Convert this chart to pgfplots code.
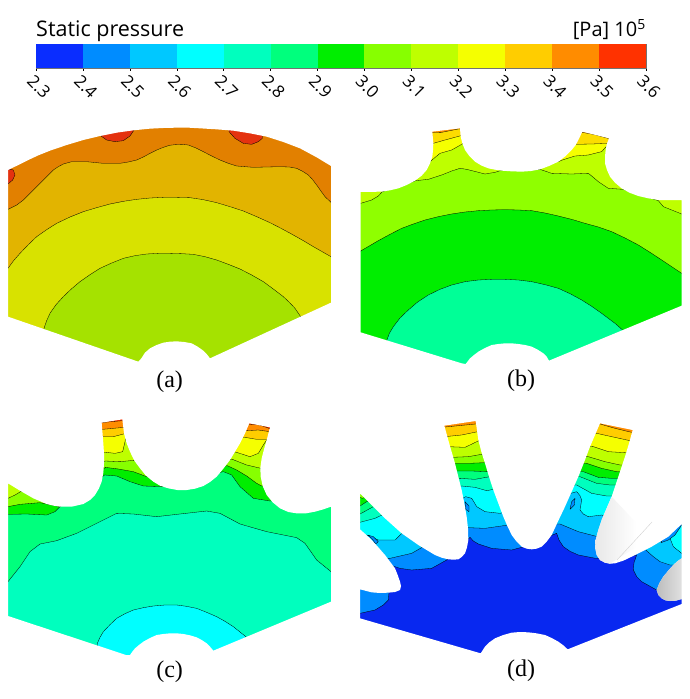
\documentclass[border=0pt]{standalone}
\usepackage{pgfplots}
\usepackage{fontspec}
\setmainfont{Liberation Serif}
\newfontfamily\barfont{Open Sans}
\pgfplotsset{compat=1.18}

% colour bar levels
\definecolor{c23}{RGB}{10,45,255}
\definecolor{c24}{RGB}{0,140,255}
\definecolor{c25}{RGB}{0,200,255}
\definecolor{c26}{RGB}{0,255,255}
\definecolor{c27}{RGB}{0,255,190}
\definecolor{c28}{RGB}{0,255,125}
\definecolor{c29}{RGB}{0,238,0}
\definecolor{c30}{RGB}{135,255,0}
\definecolor{c31}{RGB}{190,255,0}
\definecolor{c32}{RGB}{245,255,0}
\definecolor{c33}{RGB}{255,205,0}
\definecolor{c34}{RGB}{255,140,0}
\definecolor{c35}{RGB}{255,50,0}
\definecolor{d23}{RGB}{8,40,240}
% panel (a) is shaded darker
\definecolor{a1}{RGB}{228,50,15}
\definecolor{a2}{RGB}{226,128,0}
\definecolor{a3}{RGB}{226,180,0}
\definecolor{a4}{RGB}{216,226,0}
\definecolor{a5}{RGB}{165,226,0}

\pgfplotsset{panel/.style={hide axis,scale only axis,width=345pt,height=290pt,
  xmin=0,xmax=1035,ymin=0,ymax=870,y dir=reverse}}

\newcommand\base[1]{\addplot[fill=#1,draw=none] coordinates {(0,0)(1035,0)(1035,870)(0,870)} --cycle;}
\newcommand\region[4]{\addplot[fill=#1,draw=black,line width=.3pt,line join=round] coordinates {(0,#2) #3 (1035,#4)(1035,870)(0,870)} --cycle;}
\newcommand\blob[2]{\addplot[fill=#1,draw=black,line width=.3pt,line join=round] coordinates {#2} --cycle;}
\newcommand\outside[1]{\addplot[fill=white,draw=none,even odd rule] coordinates {(-5,-5)(1040,-5)(1040,875)(-5,875)(-5,-5) #1 (-5,-5)} --cycle;}
\newcommand\band[3]{\addplot[fill=#3,draw=none] coordinates {(#1,0)(#2,0)(#2,1)(#1,1)} --cycle;}

\begin{document}
\begin{tikzpicture}
\path[use as bounding box] (0,0) rectangle (690pt,699pt);

% colour bar
\begin{axis}[at={(36pt,631pt)},scale only axis,width=610pt,height=24pt,
  xmin=2.3,xmax=3.6,ymin=0,ymax=1,ytick=\empty,
  xtick={2.3,2.4,2.5,2.6,2.7,2.8,2.9,3.0,3.1,3.2,3.3,3.4,3.5,3.6},
  xticklabels={2.3,2.4,2.5,2.6,2.7,2.8,2.9,3.0,3.1,3.2,3.3,3.4,3.5,3.6},
  xtick pos=bottom,xtick align=outside,
  major tick length=3pt,
  tick style={black,line width=.5pt},
  axis line style={draw=black!55,line width=.5pt},
  x tick label style={font=\barfont\fontsize{17}{17}\selectfont,rotate=-45,anchor=center,xshift=13.4pt,yshift=-9.2pt}]
\band{2.3}{2.4}{c23}
\band{2.4}{2.5}{c24}
\band{2.5}{2.6}{c25}
\band{2.6}{2.7}{c26}
\band{2.7}{2.8}{c27}
\band{2.8}{2.9}{c28}
\band{2.9}{3.0}{c29}
\band{3.0}{3.1}{c30}
\band{3.1}{3.2}{c31}
\band{3.2}{3.3}{c32}
\band{3.3}{3.4}{c33}
\band{3.4}{3.5}{c34}
\band{3.5}{3.6}{c35}
\end{axis}
\node[anchor=base west,inner sep=0pt,font=\barfont\fontsize{21.5}{22}\selectfont] at (36pt,662pt) {Static pressure};
\node[anchor=base east,inner sep=0pt,font=\barfont\fontsize{20}{20}\selectfont] at (646pt,662pt) {[Pa] 10\textsuperscript{5}};

% (a)
\begin{axis}[panel,at={(0pt,299pt)}]
\base{a2}
\blob{a1}{(303,40)(303,78)(320,90)(345,95)(370,92)(390,78)(402,60)(402,40)}
\blob{a1}{(687,40)(687,65)(705,85)(730,100)(755,103)(775,95)(787,85)(787,40)}
\blob{a1}{(0,222)(24,222)(38,210)(45,195)(40,180)(0,170)}
\region{a3}{310}{(24,298)(50,285)(70,270)(90,250)(110,230)(130,210)(145,195)(160,180)(175,170)(190,162)(215,155)(260,155)(310,160)(360,160)(385,156)(410,150)(430,141)(450,130)(470,120)(490,112)(508,106)(525,104)(545,103)(565,105)(588,114)(610,125)(635,138)(660,150)(685,160)(710,168)(760,172)(800,171)(840,170)(868,171)(890,175)(908,184)(925,195)(938,209)(950,225)(962,242)(975,260)(993,277)}{300}
\region{a4}{500}{(24,475)(40,453)(60,430)(85,404)(110,380)(140,359)(170,340)(210,321)(250,305)(290,293)(330,282)(370,274)(410,268)(450,264)(490,262)(530,262)(570,263)(610,269)(650,278)(690,290)(730,303)(770,320)(810,338)(845,356)(880,375)(910,392)(940,410)(993,440)}{465}
\blob{a5}{(132,870)(132,655)(140,632)(150,610)(168,584)(190,560)(214,537)(240,515)(270,494)(300,475)(335,459)(370,445)(405,437)(440,432)(475,430)(510,430)(545,431)(580,433)(615,440)(650,450)(685,463)(720,477)(755,495)(790,515)(820,537)(850,560)(868,577)(885,595)(902,620)(902,870)}
\outside{(24,180)(55,165)(85,150)(115,136)(150,122)(200,105)(250,90)(300,78)(350,68)(400,61)(450,56)(490,54)(530,53)(565,53)(600,55)(650,58)(700,62)(750,70)(800,80)(850,96)(900,115)(950,142)(993,168)(993,578)(630,745)(620,732)(610,722)(593,710)(575,700)(553,696)(530,694)(510,695)(490,698)(470,705)(450,715)(435,728)(424,745)(415,755)(24,620)(24,180)}
\node[font=\fontsize{24}{24}\selectfont] at (axis cs:509,814) {(a)};
\end{axis}

% (b)
\begin{axis}[panel,at={(345pt,299pt)}]
\base{c34}
\region{c33!70!c32}{68}{(250,68)(290,67)(340,57)(360,56)(700,60)(712,67)(750,74)(800,88)}{88}
\region{c32}{100}{(265,100)(300,90)(348,77)(690,103)(740,102)(790,100)}{100}
\region{c31}{165}{(240,165)(255,155)(285,130)(320,120)(350,103)(360,95)(640,155)(652,150)(690,138)(730,135)(770,125)(785,108)}{108}
\region{c30!85!c31}{280}{(47,280)(80,270)(100,258)(112,245)(212,212)(250,208)(290,195)(320,183)(345,175)(365,178)(385,183)(420,192)(450,187)(472,180)(585,178)(620,190)(680,192)(730,190)(745,202)(760,215)(790,235)(835,238)(940,272)(955,290)(1010,312)}{320}
\region{c29}{450}{(47,423)(100,392)(135,373)(170,355)(205,342)(240,330)(280,320)(320,312)(360,306)(400,302)(440,300)(480,299)(520,300)(560,302)(600,309)(640,318)(680,328)(720,340)(760,351)(800,365)(840,384)(880,405)(915,427)(950,450)(1010,490)}{510}
\blob{c28!60!c27}{(125,870)(125,692)(133,670)(145,650)(165,624)(190,600)(218,576)(250,555)(285,538)(320,525)(360,515)(400,510)(440,508)(480,508)(520,510)(560,515)(600,524)(640,535)(675,551)(710,570)(740,589)(770,610)(810,640)(835,662)(835,870)}
\outside{(47,246)(110,245)(135,241)(160,235)(185,225)(210,212)(230,197)(245,180)(255,160)(262,140)(264,120)(265,100)(262,65)(345,55)(347,80)(352,100)(360,120)(373,138)(390,155)(410,167)(430,175)(450,179)(470,182)(500,184)(530,185)(558,183)(585,178)(612,168)(640,155)(662,138)(680,120)(692,105)(700,90)(712,65)(792,85)(785,103)(782,120)(780,140)(780,160)(786,180)(795,200)(810,218)(830,235)(853,248)(880,258)(910,265)(940,270)(975,270)(1010,270)(1010,587)(612,752)(605,740)(595,730)(578,719)(560,710)(540,705)(520,702)(500,700)(480,700)(460,702)(440,705)(420,714)(400,725)(387,735)(375,745)(362,762)(350,760)(47,667)(47,246)}
\node[font=\fontsize{24}{24}\selectfont] at (axis cs:528,811) {(b)};
\end{axis}

% (c)
\begin{axis}[panel,at={(0pt,9pt)}]
\base{c35}
\region{c34}{68}{(300,68)(367,62)(740,72)(780,75)(815,88)}{88}
\region{c33}{88}{(308,88)(340,85)(372,82)(740,92)(775,90)(810,95)}{95}
\region{c32}{110}{(310,110)(340,110)(378,100)(735,112)(770,118)(800,118)}{118}
\region{c31}{240}{(45,240)(300,157)(318,157)(345,160)(368,155)(375,125)(379,100)(710,157)(750,170)(775,160)(790,135)(800,120)}{120}
\region{c30}{298}{(24,295)(45,285)(62,275)(316,183)(360,185)(412,180)(697,178)(740,195)(783,205)}{205}
\region{c29}{322}{(24,320)(60,313)(120,308)(180,320)(316,202)(355,207)(400,215)(440,230)(682,197)(710,210)(740,228)(770,250)(785,258)}{258}
\region{c28}{343}{(24,343)(80,342)(140,345)(165,335)(180,320)(314,225)(350,228)(390,245)(430,258)(490,260)(670,215)(695,225)(720,260)(760,295)(810,303)}{303}
\region{c27}{575}{(24,545)(60,500)(90,455)(120,432)(170,422)(230,400)(290,370)(350,340)(400,342)(470,350)(540,342)(620,333)(660,340)(720,372)(800,395)(890,413)(915,430)(950,480)(993,515)}{540}
\blob{c26}{(292,870)(292,730)(300,712)(310,695)(330,674)(350,655)(375,641)(400,630)(430,623)(460,618)(495,615)(530,615)(560,619)(590,625)(620,637)(650,650)(675,664)(700,680)(740,712)(740,870)}
\outside{(24,250)(60,272)(100,295)(140,312)(160,317)(180,320)(215,320)(250,312)(270,300)(285,285)(297,265)(305,245)(310,218)(312,190)(312,160)(310,130)(305,68)(367,58)(372,100)(380,130)(390,155)(403,182)(420,205)(438,227)(460,245)(480,257)(505,265)(532,270)(560,270)(585,266)(610,258)(630,246)(650,230)(670,206)(690,180)(705,155)(720,130)(735,100)(748,70)(810,82)(800,120)(792,148)(785,175)(781,203)(782,230)(788,258)(800,285)(818,307)(840,325)(865,336)(890,340)(918,340)(945,335)(970,328)(993,320)(993,605)(640,752)(630,740)(620,730)(605,720)(590,712)(570,706)(550,702)(530,700)(510,700)(490,702)(470,705)(450,714)(430,725)(417,735)(405,745)(397,755)(390,765)(378,765)(24,648)(24,250)}
\node[font=\fontsize{24}{24}\selectfont] at (axis cs:509,814) {(c)};
\end{axis}

% (d)
\begin{axis}[panel,at={(345pt,9pt)}]
\base{c34}
\region{c33}{82}{(290,82)(392,72)(765,72)(810,85)(860,97)}{97}
\region{c32}{110}{(300,110)(350,105)(398,95)(755,100)(800,110)(855,122)}{122}
\region{c31}{140}{(310,140)(360,142)(410,118)(745,140)(790,155)(840,158)}{158}
\region{c30}{170}{(320,172)(370,170)(415,162)(730,170)(780,185)(825,195)}{195}
\region{c29}{290}{(45,292)(52,295)(325,190)(370,190)(420,188)(725,190)(770,205)(815,215)}{215}
\region{c28}{318}{(45,318)(65,305)(335,213)(380,213)(428,215)(715,215)(760,232)(800,235)}{235}
\region{c27}{342}{(45,342)(85,320)(345,235)(390,238)(435,230)(705,230)(755,250)(795,255)}{255}
\region{c26}{367}{(45,367)(90,355)(115,343)(350,258)(390,262)(425,272)(445,268)(695,255)(740,280)(785,288)}{288}
\region{c25}{405}{(65,405)(100,420)(150,420)(178,393)(362,290)(380,295)(388,308)(395,320)(420,335)(465,340)(695,275)(705,287)(710,300)(705,330)(715,342)(730,350)(770,345)(975,415)(985,440)(1010,460)}{470}
\region{c24}{480}{(135,475)(200,460)(235,440)(370,383)(420,385)(490,375)(645,372)(700,395)(750,408)(900,448)(925,470)(945,485)(975,495)}{495}
\region{d23}{640}{(45,640)(90,630)(115,615)(130,600)(132,578)(135,495)(165,505)(200,510)(260,505)(305,480)(375,412)(385,423)(400,432)(440,445)(500,450)(530,442)(635,400)(642,420)(655,440)(675,454)(700,465)(752,475)(875,465)(867,488)(865,510)(875,530)(890,545)(935,570)}{590}
% small low pressure pockets on the blade roots
\blob{c24}{(68,405)(80,415)(92,432)(100,425)(85,410)}
\blob{c24}{(360,305)(372,318)(372,335)(362,328)}
\blob{c24}{(690,295)(688,315)(675,328)(680,305)}
\blob{c24}{(948,428)(970,420)(990,405)(1000,390)(1012,372)(1012,360)(960,400)}
\outside{(45,280)(80,315)(120,355)(170,400)(220,435)(270,465)(290,473)(310,478)(325,479)(340,478)(350,471)(360,460)(366,442)(370,420)(369,385)(365,350)(358,310)(350,270)(340,230)(330,190)(314,135)(298,77)(392,63)(400,120)(409,155)(420,190)(432,230)(445,270)(460,310)(475,350)(487,378)(500,405)(515,425)(530,440)(545,446)(560,448)(575,446)(590,440)(605,425)(620,405)(640,362)(660,320)(680,275)(700,230)(718,185)(735,140)(765,70)(863,90)(852,130)(840,170)(820,230)(800,290)(785,325)(770,360)(760,390)(752,420)(751,445)(755,465)(765,480)(780,488)(795,491)(810,490)(835,482)(860,470)(890,455)(920,440)(945,425)(970,410)(1010,372)(1010,475)(997,484)(985,495)(970,512)(955,530)(943,550)(935,570)(940,585)(950,595)(962,601)(975,603)(992,602)(1010,597)(1010,612)(668,748)(655,736)(640,725)(620,714)(600,705)(575,700)(550,697)(525,696)(500,698)(475,705)(450,715)(433,727)(420,740)(407,760)(45,655)(45,568)(80,577)(105,579)(130,578)(150,576)(165,570)(168,558)(165,545)(158,525)(150,505)(135,485)(120,465)(100,442)(80,420)(62,403)(45,388)(45,280)}
% blade surfaces seen behind the cut
\addplot[left color=black!9,right color=white,draw=none] coordinates {(800,290)(785,325)(770,360)(760,390)(752,420)(751,445)(755,465)(765,480)(780,488)(795,491)(875,440)(875,370)} --cycle;
\addplot[black!18,line width=.4pt] coordinates {(816,480)(921,366)};
\addplot[left color=black!26,right color=black!12,draw=none] coordinates {(1010,475)(997,484)(985,495)(970,512)(955,530)(943,550)(935,570)(940,585)(950,595)(962,601)(975,603)(992,602)(1010,597)} --cycle;
\node[font=\fontsize{24}{24}\selectfont] at (axis cs:528,811) {(d)};
\end{axis}
\end{tikzpicture}
\end{document}
